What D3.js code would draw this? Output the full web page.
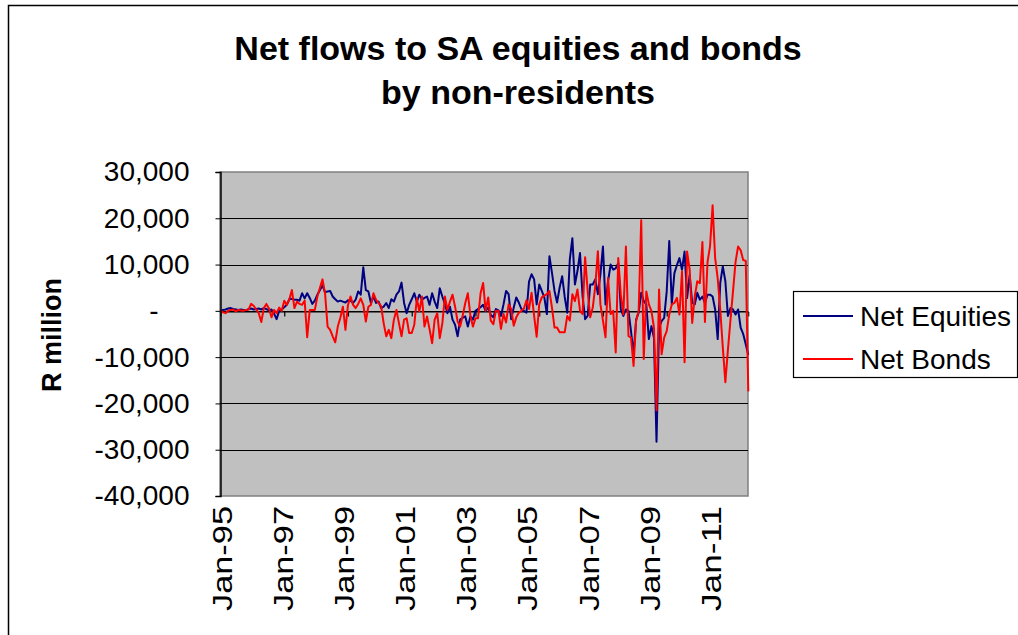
<!DOCTYPE html>
<html>
<head>
<meta charset="utf-8">
<script src="https://cdn.jsdelivr.net/npm/d3@7"></script>
<style>
  body { margin: 0; background: #fff; }
  svg { display: block; font-family: "Liberation Sans", Arial, sans-serif; }
</style>
</head>
<body>
<script>
// monthly net purchases by non-residents, R million
var netEquities = [
  0, 200, 300, 500, 600, 400, 300, 200, 300, 200,
  100, 400, 500, 300, 400, 500, 300, 600, 400, 100,
  300, -600, -1800, 0, 200, 800, 1300, 2500, 2600, 2400,
  2400, 2200, 3800, 2700, 3800, 2800, 1500, 2200, 3500, 4500,
  5500, 4000, 4200, 4300, 3100, 2500, 2000, 2200, 2000, 1800,
  2300, 2200, 1700, 2400, 4200, 3500, 9400, 4500, 4200, 1700,
  3100, 1700, 2000, 600, 900, 1700, 600, 2500, 2000, 3500,
  4200, 6100, 1700, -500, 1300, 2500, 3800, 2000, 3500, 2400,
  2800, 3100, 1300, 3800, 2000, 600, 4900, 3100, 1500, -500,
  900, -1900, -3000, -5500, -1900, -1500, -1200, -3400, -1200, -1900,
  0, 400, 800, 1300, 0, 700, -900, -1400, 400, 100,
  -1100, 1400, 4300, 3600, -1800, 700, 2900, 1800, 400, 0,
  -400, 6300, 7900, 6800, 1400, 5700, 4300, 2900, -700, 11800,
  8200, 4300, 1800, 5000, 7500, 3000, -400, 11100, 15700, 5700,
  8600, 12500, 3200, -1800, -1100, 5700, 5700, 6800, 3600, 7900,
  13900, 1400, 6400, 10000, 8900, 9200, 10300, 300, -1100, 300,
  0, -4400, -9400, -1900, -400, 3900, 2100, 1400, -6100, -3300,
  -5800, -28300, -3600, -2200, -1500, 4200, 15100, 1400, 8100, 9900,
  11400, 8900, 12800, 2800, 7800, 1700, 1400, 3900, 2400, 3100,
  1700, 3500, 3500, 3100, 300, -6100, 6000, 9600, 6400, -1100,
  600, 300, -800, 300, -3600, -5000, -7200, -9500
];

var netBonds = [
  0, -300, -500, 0, 200, 300, -100, 200, 100, 0,
  200, 300, 1500, 1100, 300, -500, -2400, 600, 1500, 500,
  -1400, 200, -500, 700, 0, 2200, 1300, 2500, 4500, 600,
  2000, 1500, 1300, 2200, -5700, 200, 200, 200, 3100, 5000,
  6800, 3800, -3400, -4100, -5500, -6800, -3400, -1500, 900, -4100,
  1300, 3100, 1300, 600, 1500, 2700, 1300, -2300, 900, 1300,
  3800, 2400, 1700, 1000, -2700, -5500, -4100, -5900, -1900, 200,
  -2700, -5500, -1900, -1600, -4800, -4800, -3000, 2700, -100, 3100,
  -3400, -1200, -4000, -7000, -1900, -500, -5900, -2700, 3100, 200,
  2000, 3500, 900, -2300, -3400, -1000, 1700, 3800, -1000, -3400,
  -1600, -1600, 3800, 6000, 0, 2900, -2100, -2900, 0, 0,
  -3900, -700, -2500, 1400, 400, -3200, -1400, -400, 0, 500,
  2300, 400, 3900, -1100, -5600, 1400, 2900, 3300, 3600, 4300,
  700, -3600, -3600, -4600, -4600, -4600, -1100, -2100, 3600, 2100,
  4600, 0, -700, 11600, 4300, -1400, 700, 5400, 12900, 1400,
  -2100, -5700, 7100, -700, 0, -9000, 11400, 3500, -800, 13900,
  -5400, -5800, -11900, -2200, 0, 19600, -10400, 4200, 1400, 0,
  -3600, -21500, 4600, -9400, -5800, -4400, -800, 1400, 1700, 2800,
  -800, 8500, -11100, 12800, 8900, -2600, 3100, 6400, 6000, 14900,
  -2400, 10500, 14000, 22800, 11400, 7000, 200, -7900, -15400, -8500,
  -2000, 4200, 10600, 13900, 13100, 11000, 10800, -17400
];

// categories: one per month, Jan-95 .. Apr-12
var fmtMonth = d3.timeFormat("%b-%y");
var months = d3.timeMonth.range(new Date(1995, 0, 1), new Date(2012, 4, 1)).map(fmtMonth);

var xLabels = ["Jan-95", "Jan-97", "Jan-99", "Jan-01", "Jan-03", "Jan-05", "Jan-07", "Jan-09", "Jan-11"];
var yTicks = [-40000, -30000, -20000, -10000, 0, 10000, 20000, 30000];
var seriesNames = ["Net Equities", "Net Bonds"];
var seriesColors = ["#000080", "#ff0000"];

var svgWidth = 1018, svgHeight = 635;
var plot = {left: 220, right: 748, top: 172, bottom: 496};

var svg = d3.select("body").append("svg")
  .attr("width", svgWidth)
  .attr("height", svgHeight);

// chart border (runs off the right and bottom of the window)
svg.append("rect")
  .attr("x", 8.5).attr("y", 5.5)
  .attr("width", 1040).attr("height", 660)
  .attr("fill", "#fff")
  .attr("stroke", "#000").attr("stroke-width", 1.5);

// title
var title = svg.append("text")
  .attr("text-anchor", "middle")
  .attr("font-weight", "bold")
  .attr("font-size", 34);
title.append("tspan").attr("x", 518).attr("y", 60).text("Net flows to SA equities and bonds");
title.append("tspan").attr("x", 518).attr("y", 104).text("by non-residents");

// scales
var x = d3.scalePoint().domain(months).range([plot.left + 0.5, plot.right + 0.3]);
var y = d3.scaleLinear().domain([-40000, 30000]).range([plot.bottom, plot.top]);

var locale = d3.formatLocale({decimal: ".", thousands: ",", grouping: [3], currency: ["", ""], minus: "-"});
var fmtNum = locale.format(",");

// plot area
svg.append("rect")
  .attr("x", plot.left).attr("y", plot.top)
  .attr("width", plot.right - plot.left).attr("height", plot.bottom - plot.top)
  .attr("fill", "#c0c0c0")
  .attr("stroke", "#808080").attr("stroke-width", 1.5);

// gridlines
svg.append("g")
  .selectAll("line")
  .data(yTicks.filter(function(d) { return d > -40000 && d < 30000; }))
  .enter()
  .append("line")
  .attr("x1", plot.left).attr("x2", plot.right)
  .attr("y1", function(d) { return Math.round(y(d)) + 0.5; })
  .attr("y2", function(d) { return Math.round(y(d)) + 0.5; })
  .attr("stroke", "#000").attr("stroke-width", 1);

// category axis at zero, tick marks every 25 months, labels every 24 below the plot
var tickCats = months.filter(function(d, i) { return i % 25 === 0 && i > 0; });
svg.append("g")
  .attr("transform", "translate(0," + (Math.round(y(0)) + 0.5) + ")")
  .call(d3.axisBottom(x).tickValues(tickCats).tickSize(5).tickFormat(""))
  .call(function(g) {
    g.select(".domain").attr("stroke", "#000");
    g.selectAll(".tick line").attr("stroke", "#000").attr("stroke-width", 1.2);
  });

svg.append("g")
  .selectAll("text")
  .data(xLabels)
  .enter()
  .append("text")
  .attr("transform", function(d) { return "translate(" + (x(d) + 11) + "," + (plot.bottom + 10) + ") rotate(-90)"; })
  .attr("text-anchor", "end")
  .attr("font-size", 28)
  .attr("textLength", 105)
  .attr("lengthAdjust", "spacingAndGlyphs")
  .text(function(d) { return d; });

// series
var line = d3.line()
  .x(function(d, i) { return x(months[i]); })
  .y(function(d) { return y(d); });

[netEquities, netBonds].forEach(function(series, k) {
  svg.append("path")
    .datum(series)
    .attr("fill", "none")
    .attr("stroke", seriesColors[k])
    .attr("stroke-width", 2)
    .attr("stroke-linejoin", "round")
    .attr("d", line);
});

// value axis
var yAxis = svg.append("g")
  .attr("transform", "translate(" + (plot.left + 0.5) + ",0)")
  .call(d3.axisLeft(y).tickValues(yTicks).tickSize(5).tickPadding(26)
    .tickFormat(function(d) { return d === 0 ? "-" : fmtNum(d); }));
yAxis.select(".domain").attr("stroke", "#000").attr("stroke-width", 1.5);
yAxis.selectAll(".tick line").attr("stroke", "#000");
yAxis.selectAll(".tick text")
  .attr("font-size", 28)
  .attr("font-family", "Liberation Sans, Arial, sans-serif")
  .attr("fill", "#000")
  .attr("dx", function(d) { return d === 0 ? -31 : 0; });

// axis title
svg.append("text")
  .attr("transform", "translate(61,335) rotate(-90)")
  .attr("text-anchor", "middle")
  .attr("font-weight", "bold")
  .attr("font-size", 27)
  .text("R million");

// legend
var legend = svg.append("g");
legend.append("rect")
  .attr("x", 793.5).attr("y", 291.5)
  .attr("width", 224).attr("height", 86)
  .attr("fill", "#fff")
  .attr("stroke", "#000").attr("stroke-width", 1.2);

var items = legend.selectAll("g.item")
  .data(seriesNames)
  .enter()
  .append("g")
  .attr("class", "item")
  .attr("transform", function(d, i) { return "translate(0," + (316 + i * 43) + ")"; });
items.append("line")
  .attr("x1", 803).attr("x2", 853)
  .attr("stroke", function(d, i) { return seriesColors[i]; })
  .attr("stroke-width", 2);
items.append("text")
  .attr("x", 860).attr("y", 10)
  .attr("font-size", 28)
  .text(function(d) { return d; });
</script>
</body>
</html>
